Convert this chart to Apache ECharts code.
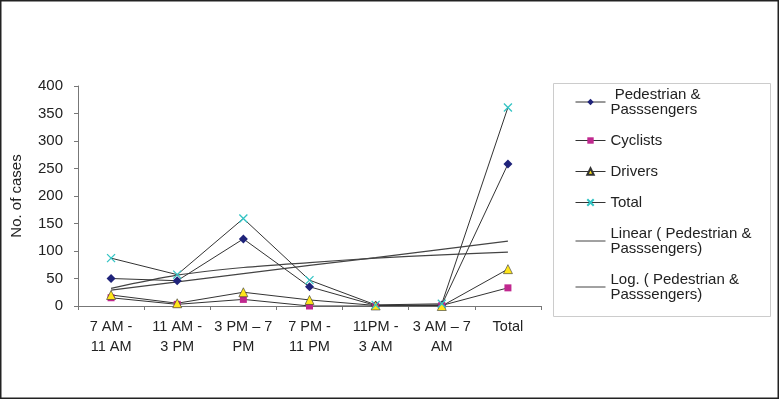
<!DOCTYPE html>
<html><head><meta charset="utf-8">
<script src="https://cdn.jsdelivr.net/npm/echarts@6/dist/echarts.min.js"></script>
<style>html,body{margin:0;padding:0;background:#fff}#c{width:779px;height:400px}</style>
</head><body><div id="c"></div>
<script>
const categories = ['7 AM -\n11 AM', '11 AM -\n3 PM', '3 PM – 7\nPM', '7 PM -\n11 PM', '11PM -\n3 AM', '3 AM – 7\nAM', 'Total'];
const pedestrian = [50, 46, 122, 35, 1, 2, 258];
const cyclists = [15, 3, 12, 0, 0, 1, 33];
const drivers = [20, 5, 25, 11, 1, 0, 67];
const total = [87, 57, 159, 47, 2, 4, 361];
const linearTrend = [29, 44, 59, 74, 88, 103, 118];
const logTrend = [32, 56, 70, 79, 87, 93, 98];
const yMin = 0, yMax = 400, yStep = 50;
const legendText = {
  'Pedestrian & Passsengers': ' Pedestrian &\nPasssengers',
  'Cyclists': 'Cyclists',
  'Drivers': 'Drivers',
  'Total': 'Total',
  'Linear ( Pedestrian & Passsengers)': 'Linear ( Pedestrian &\nPasssengers)',
  'Log. ( Pedestrian & Passsengers)': 'Log. ( Pedestrian &\nPasssengers)'
};
const FONT = "'Liberation Sans', Arial, sans-serif";
const lineCol = '#333';
const chart = echarts.init(document.getElementById('c'), null, {renderer: 'canvas'});
function s(name, data, symbol, size, color, extra) {
  return Object.assign({
    name, type: 'line', data, symbol, symbolSize: size,
    lineStyle: {color: lineCol, width: 1},
    itemStyle: {color: color},
    animation: false, z: 3
  }, extra || {});
}
const hiddenSym = {color: 'rgba(0,0,0,0)', borderColor: 'rgba(0,0,0,0)', borderWidth: 0, opacity: 0};
chart.setOption({
  backgroundColor: '#fff',
  animation: false,
  textStyle: {fontFamily: FONT},
  graphic: [
    {type: 'rect', shape: {x: 0.75, y: 0.75, width: 777.5, height: 397.5}, style: {fill: 'none', stroke: '#222', lineWidth: 1.5}, silent: true},
    {type: 'rect', shape: {x: 553.5, y: 83.5, width: 217, height: 233}, style: {fill: 'none', stroke: '#ccc', lineWidth: 1}, silent: true}
  ],
  grid: {left: 78, right: 238, top: 86, bottom: 94, containLabel: false},
  legend: {
    orient: 'vertical', left: 570, top: 82, itemGap: 16, itemWidth: 30, itemHeight: 8,
    lineStyle: {width: 1},
    textStyle: {fontSize: 15, lineHeight: 15, color: '#222', fontFamily: FONT},
    formatter: n => legendText[n] || n,
    data: ['Pedestrian & Passsengers', 'Cyclists', 'Drivers', 'Total',
      {name: 'Linear ( Pedestrian & Passsengers)', itemStyle: hiddenSym},
      {name: 'Log. ( Pedestrian & Passsengers)', itemStyle: hiddenSym}]
  },
  xAxis: {
    type: 'category', data: categories, boundaryGap: true,
    axisLine: {lineStyle: {color: '#777', width: 1}},
    axisTick: {show: true, alignWithLabel: false, length: 4, lineStyle: {color: '#777'}},
    axisLabel: {color: '#222', fontSize: 14.5, lineHeight: 20, margin: 11, interval: 0, fontFamily: FONT},
    splitLine: {show: false}
  },
  yAxis: {
    type: 'value', min: yMin, max: yMax, interval: yStep,
    name: 'No. of cases', nameLocation: 'middle', nameGap: 54, nameRotate: 90,
    nameTextStyle: {color: '#222', fontSize: 15, fontFamily: FONT},
    axisLine: {show: true, lineStyle: {color: '#777', width: 1}},
    axisTick: {show: true, length: 4, lineStyle: {color: '#777'}},
    axisLabel: {color: '#222', fontSize: 15, margin: 15, fontFamily: FONT},
    splitLine: {show: false}
  },
  series: [
    s('Pedestrian & Passsengers', pedestrian, 'diamond', 9, '#1f237a'),
    s('Cyclists', cyclists, 'rect', 7, '#c0288f'),
    s('Drivers', drivers, 'triangle', 9, '#ffe51a', {itemStyle: {color: '#ffe51a', borderColor: '#333', borderWidth: 0.6}}),
    s('Total', total, 'path://M0,0L10,10M10,0L0,10', 8, '#33c4c4', {itemStyle: {color: '#33c4c4', borderColor: '#33c4c4', borderWidth: 1.3}}),
    {name: 'Linear ( Pedestrian & Passsengers)', type: 'line', data: linearTrend, symbol: 'none', smooth: false,
      lineStyle: {color: '#444', width: 1.2}, itemStyle: {color: '#444'}, z: 2},
    {name: 'Log. ( Pedestrian & Passsengers)', type: 'line', data: logTrend, symbol: 'none', smooth: 0.3,
      lineStyle: {color: '#444', width: 1.2}, itemStyle: {color: '#444'}, z: 2}
  ]
});
</script></body></html>
